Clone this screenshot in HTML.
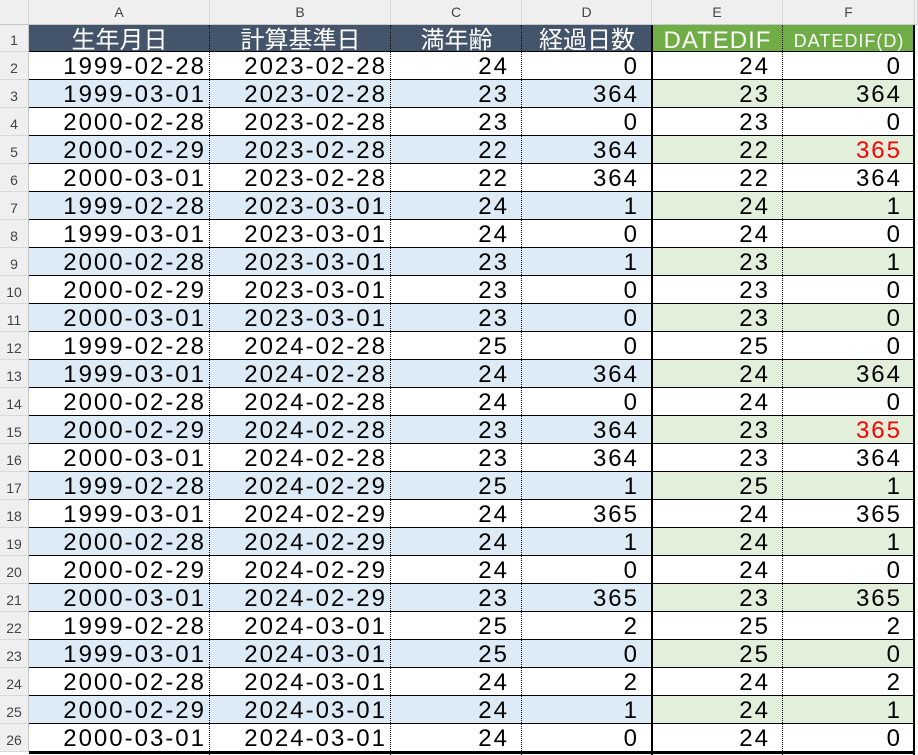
<!DOCTYPE html>
<html><head><meta charset="utf-8"><style>
body{margin:0;width:918px;height:755px;overflow:hidden;background:#fff;font-family:"Liberation Sans","Noto Sans CJK JP",sans-serif;position:relative}
.c{position:absolute;box-sizing:border-box;white-space:nowrap;overflow:hidden}
.ch{background:#efefef;color:#444;font-size:14px;text-align:center;line-height:25px;border-right:1px solid #d8d8d8;border-bottom:1px solid #c8c8c8}
.rh{background:#efefef;color:#444;font-size:14px;text-align:center;border-bottom:1px solid #d8d8d8;border-right:1px solid #c8c8c8}
.d{font-size:24px;text-align:right;padding-right:4px;color:#000;line-height:30px;letter-spacing:2px}
</style></head><body>
<div id="sheet"></div>
<script>
const births=["1999-02-28","1999-03-01","2000-02-28","2000-02-29","2000-03-01"];
const bases=["2023-02-28","2023-03-01","2024-02-28","2024-02-29","2024-03-01"];
const ages=[24,23,23,22,22,24,24,23,23,23,25,24,24,23,23,25,24,24,24,23,25,25,24,24,24];
const days=[0,364,0,364,364,1,0,1,0,0,0,364,0,364,364,1,365,1,0,365,2,0,2,1,0];
const datedif=[24,23,23,22,22,24,24,23,23,23,25,24,24,23,23,25,24,24,24,23,25,25,24,24,24];
const datedifD=[0,364,0,365,364,1,0,1,0,0,0,364,0,365,364,1,365,1,0,365,2,0,2,1,0];
const redRows=[3,13];
const headers=["生年月日","計算基準日","満年齢","経過日数","DATEDIF","DATEDIF(D)"];
const colLetters=["A","B","C","D","E","F"];
const colX=[29,210,391,522,652,783,915];
const H0=25,R1=27,RH=28;
const s=document.getElementById('sheet');
function mk(cls,x,y,w,h,txt){const e=document.createElement('div');e.className='c '+cls;e.style.left=x+'px';e.style.top=y+'px';e.style.width=w+'px';e.style.height=h+'px';if(txt!==undefined)e.textContent=txt;s.appendChild(e);return e;}
let corner=mk('ch',0,0,29,H0,'');


mk('ch',915,0,3,H0,'');
for(let i=0;i<6;i++){
  const e=mk('ch',colX[i],0,colX[i+1]-colX[i],H0,colLetters[i]);
  
  
}
for(let r=0;r<26;r++){
  const y=r==0?H0:H0+R1+(r-1)*RH, h=r==0?R1:RH;
  const e=mk('rh',0,y,29,h,String(r+1));
  e.style.lineHeight=(h+4)+'px';
  
  
}
for(let i=0;i<6;i++){
  const e=mk('',colX[i],H0,colX[i+1]-colX[i],R1,headers[i]);
  e.style.background=i<4?'#44546a':'#70ad47';
  e.style.color='#fff';e.style.textAlign='center';
  e.style.fontSize=(i==5?'18px':'24px');e.style.lineHeight='31px';
  e.style.letterSpacing=i>=4?'1px':'0';
  if(i==5){e.style.lineHeight='33px';}
  
  
}
for(let r=0;r<25;r++){
  const y=H0+R1+r*RH;const alt=r%2==1;
  const vals=[births[r%5],bases[Math.floor(r/5)],ages[r],days[r],datedif[r],datedifD[r]];
  for(let i=0;i<6;i++){
    const e=mk('d',colX[i],y,colX[i+1]-colX[i],RH,String(vals[i]));
    if(i>=2)e.style.paddingRight='13px';
    if(alt)e.style.background=i<4?'#ddebf7':'#e2efda';
    if(i==5&&redRows.includes(r))e.style.color='#ff0000';
    
    
  }
}
for(let r=0;r<=25;r++){
  const y=H0+R1+r*RH-1;
  const e=mk('',29,y,886,r==25?3:1);e.style.background='#000';
}
[210,391,522,783].forEach(x=>{const e=mk('',x-1,H0,1,730);e.style.borderLeft='1px dotted #000';});
[[651,2],[913,2]].forEach(([x,w])=>{const e=mk('',x,H0,w,730);e.style.background='#000';});
</script>
</body></html>
